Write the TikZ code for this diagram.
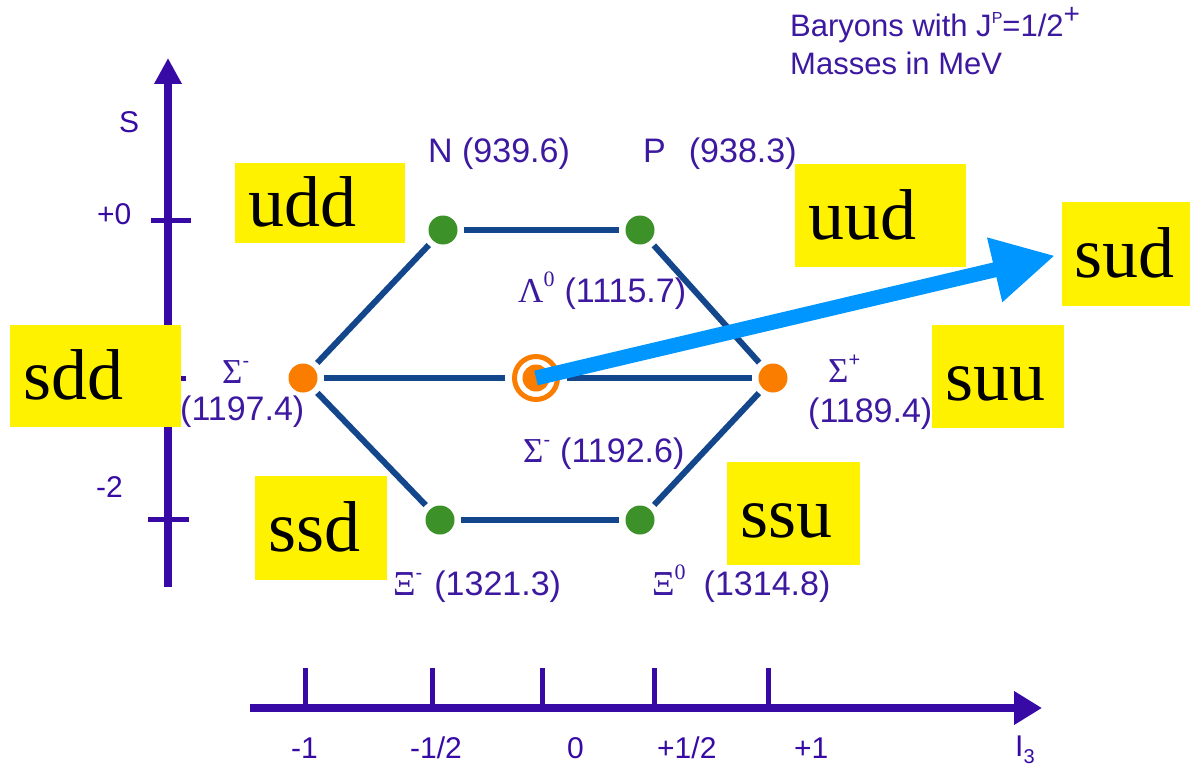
\documentclass[tikz,border=0pt]{standalone}
\usepackage{fontspec}
\setmainfont{Liberation Sans}
\newfontfamily\tnr{Liberation Serif}
\usetikzlibrary{arrows.meta}
\definecolor{axisc}{RGB}{55,10,165}
\definecolor{txtc}{RGB}{60,25,160}
\definecolor{linec}{RGB}{20,70,140}
\definecolor{greenc}{RGB}{60,145,40}
\definecolor{orangec}{RGB}{250,125,0}
\definecolor{arrowc}{RGB}{0,150,255}
\newcommand{\upidx}[2][20]{\raisebox{0.45em}{\fontsize{#1}{#1}\selectfont #2}}
\newcommand{\gk}[1]{{\fontsize{35}{35}\tnr #1}}
\begin{document}
\begin{tikzpicture}[x=1pt,y=-1pt,
  axis/.style={draw=axisc, line width=8pt},
  tickline/.style={draw=axisc, line width=5pt},
  hexline/.style={draw=linec, line width=6pt, shorten <=6pt, shorten >=6pt},
  gdot/.style={circle, fill=greenc, minimum size=29pt, inner sep=0pt},
  odot/.style={circle, fill=orangec, minimum size=29pt, inner sep=0pt},
  lbl/.style={text=txtc, font=\fontsize{34}{40}\selectfont, inner sep=0pt, anchor=base west},
  axlbl/.style={text=axisc, font=\fontsize{30}{34}\selectfont, inner sep=0pt, anchor=base west},
  quark/.style={fill=yellow, inner xsep=13pt, inner ysep=0pt, text=black, align=left,
    font=\fontsize{72}{72}\tnr, text height=49pt, text depth=2pt},
  bluearrow/.style={draw=arrowc, line width=15pt, -{Triangle[length=62pt,width=62pt]}}
]
\useasboundingbox[fill=white] (0,0) rectangle (1190,770);

% S axis
\coordinate (Sbot) at (168,587);
\coordinate (Stop) at (168,58);
\draw[axis, -{Triangle[length=26pt,width=26pt]}] (Sbot) -- (Stop);
\draw[tickline] (151,220) -- (191,220);
\draw[tickline] (152,378) -- (186,378);
\draw[tickline] (148,519) -- (189,519);
\node[axlbl] (Slab) at (119,133) {S};
\node[axlbl] (S0) at (97,224) {+0};
\node[axlbl] (S2) at (96,497) {-2};

% I3 axis
\coordinate (Ileft) at (250,708);
\coordinate (Iright) at (1042,708);
\draw[axis, -{Triangle[length=28pt,width=32pt]}] (Ileft) -- (Iright);
\foreach \x in {305,432,542,654,768} \draw[tickline] (\x,668) -- (\x,708);
\node[axlbl] (Im1) at (291,758) {-1};
\node[axlbl] (Imh) at (410,758) {-1/2};
\node[axlbl] (I0) at (567,758) {0};
\node[axlbl] (Iph) at (657,758) {+1/2};
\node[axlbl] (Ip1) at (794,758) {+1};
\node[axlbl] (I3) at (1015,756) {I\raisebox{-0.25em}{\fontsize{20}{20}\selectfont 3}};

% hexagon nodes
\node[gdot] (N) at (443,230) {};
\node[gdot] (P) at (640,230) {};
\node[odot] (Sm) at (303,378) {};
\node[circle, minimum size=50pt, inner sep=0pt] (L) at (536,378) {};
\node[odot] (Sp) at (773,378) {};
\node[gdot] (Xm) at (440,520) {};
\node[gdot] (X0) at (640,520) {};

\draw[hexline] (N) -- (P);
\draw[hexline] (N) -- (Sm);
\draw[hexline] (P) -- (Sp);
\draw[hexline] (Sm) -- (L);
\draw[hexline] (L) -- (Sp);
\draw[hexline] (Sm) -- (Xm);
\draw[hexline] (Sp) -- (X0);
\draw[hexline] (Xm) -- (X0);

\fill[white] (L.center) circle (25pt);
\draw[orangec, line width=5pt] (L.center) circle (21.5pt);
\node[odot, minimum size=27pt] (Lc) at (L.center) {};

% labels
\node[lbl] (Nlab) at (428,163) {N (939.6)};
\node[lbl] (Plab) at (643,163) {P\hspace{23pt}(938.3)};
\node[lbl] (Llab) at (518,302) {\gk{Λ}\upidx[22]{\tnr 0}\hspace{10pt}(1115.7)};
\node[lbl] (Smsym) at (222,383) {\gk{Σ}\upidx{-}};
\node[lbl] (Smmass) at (180,420) {(1197.4)};
\node[lbl] (Spsym) at (828,382) {\gk{Σ}\upidx{+}};
\node[lbl] (Spmass) at (808,422) {(1189.4)};
\node[lbl] (S0lab) at (523,462) {\gk{Σ}\upidx{-}\hspace{10pt}(1192.6)};
\node[lbl] (Xmlab) at (393,595) {\gk{Ξ}\upidx{-}\hspace{12pt}(1321.3)};
\node[lbl] (X0lab) at (652,595) {\gk{Ξ}\upidx[22]{\tnr 0}\hspace{18pt}(1314.8)};

% title
\node[anchor=base west, text=txtc, font=\fontsize{31}{36}\selectfont, inner sep=0pt] (title1) at (790,37) {Baryons with J\upidx[16]{P}=1/2\upidx[28]{+}};
\node[anchor=base west, text=txtc, font=\fontsize{31}{36}\selectfont, inner sep=0pt] (title2) at (790,75) {Masses in MeV};

% quark boxes
\node[quark, minimum width=170pt, minimum height=80pt, text width=144pt] (udd) at (320,203) {udd};
\node[quark, minimum width=171pt, minimum height=103pt, text width=145pt] (uud) at (880.5,215.5) {uud};
\node[quark, minimum width=128pt, minimum height=104pt, text width=104pt, inner xsep=12pt] (sud) at (1126,254) {sud};
\node[quark, minimum width=171pt, minimum height=102pt, text width=145pt] (sdd) at (95.5,376) {sdd};
\node[quark, minimum width=132pt, minimum height=103pt, text width=106pt] (suu) at (998,376.5) {suu};
\node[quark, minimum width=132pt, minimum height=104pt, text width=106pt] (ssd) at (321,528) {ssd};
\node[quark, minimum width=133pt, minimum height=103pt, text width=107pt] (ssu) at (793.5,513.5) {ssu};

% blue arrow
\draw[bluearrow, shorten >=7pt] (L.center) -- (sud.west);
\end{tikzpicture}
\end{document}
